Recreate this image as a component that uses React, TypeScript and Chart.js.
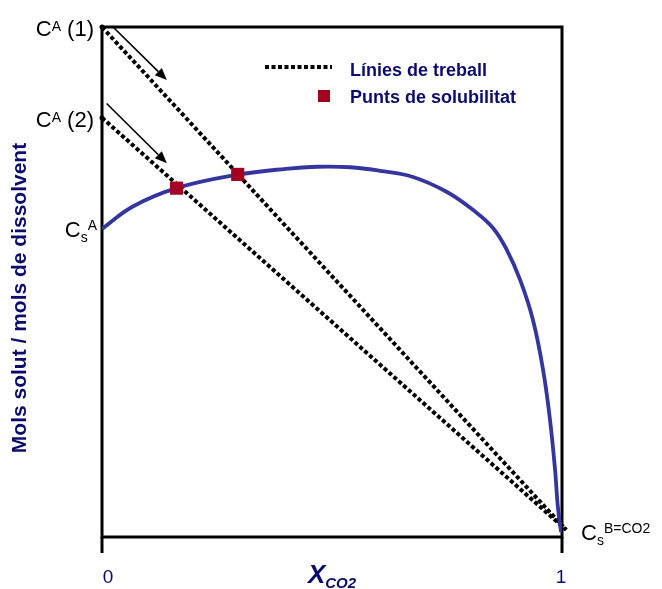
import React, { useEffect, useRef } from "react";
import { Chart, registerables } from "chart.js";

Chart.register(...registerables);

// Solubility curve (mole fraction of CO2 vs. mols solute / mols solvent)
const curveX = [0, 0.067, 0.162, 0.293, 0.4, 0.467, 0.54, 0.604, 0.676, 0.749, 0.807, 0.85, 0.88, 0.909, 0.937, 0.959, 0.974, 0.985, 0.991, 0.998];
const curveY = [0.604, 0.648, 0.684, 0.71, 0.722, 0.726, 0.725, 0.718, 0.706, 0.677, 0.641, 0.606, 0.563, 0.504, 0.425, 0.327, 0.229, 0.131, 0.059, 0.01];

// Working lines from each initial concentration down to pure CO2
const line1X = [0, 1.009];
const line1Y = [1.0, 0.014];
const line2X = [0, 1.009];
const line2Y = [0.822, 0.014];

// Solubility points (where working lines cut the curve)
const pointX = [0.162, 0.295];
const pointY = [0.684, 0.711];

// Direction arrows beside the working lines
const arrowStartX = [0.024, 0.01];
const arrowStartY = [1.0, 0.85];
const arrowEndX = [0.141, 0.141];
const arrowEndY = [0.896, 0.733];

const xTickValues = [0, 1];
const xTickLabels = ["0", "1"];
const legendLabels = ["Línies de treball", "Punts de solubilitat"];
const yTitle = "Mols solut / mols de dissolvent";

const FONT = "'Liberation Sans', Arial, Helvetica, sans-serif";
const NAVY = "#0b0b6e";
const CURVE = "#3535a0";
const SQUARE = "#a50021";

type Run = { t: string; size: number; dy?: number; weight?: string; style?: string };

function runFont(r: Run) {
  return `${r.style || "normal"} ${r.weight || "normal"} ${r.size}px ${FONT}`;
}

function drawRuns(ctx: CanvasRenderingContext2D, runs: Run[], x: number, y: number, align: "left" | "right" | "center", color: string) {
  ctx.save();
  ctx.fillStyle = color;
  ctx.textBaseline = "alphabetic";
  ctx.textAlign = "left";
  let total = 0;
  const widths = runs.map((r) => {
    ctx.font = runFont(r);
    const w = ctx.measureText(r.t).width;
    total += w;
    return w;
  });
  let cx = align === "left" ? x : align === "right" ? x - total : x - total / 2;
  runs.forEach((r, i) => {
    ctx.font = runFont(r);
    ctx.fillText(r.t, cx, y + (r.dy || 0));
    cx += widths[i];
  });
  ctx.restore();
}

const decorPlugin = {
  id: "decor",
  beforeDatasetsDraw(chart: any) {
    const { ctx, chartArea: a, scales } = chart;
    ctx.save();
    ctx.strokeStyle = "#000";
    ctx.lineWidth = 3;
    ctx.strokeRect(a.left, a.top, a.right - a.left, a.bottom - a.top);
    // tick marks below the x axis
    xTickValues.forEach((v) => {
      const px = scales.x.getPixelForValue(v);
      ctx.beginPath();
      ctx.moveTo(px, a.bottom);
      ctx.lineTo(px, a.bottom + 16);
      ctx.stroke();
    });
    ctx.restore();
  },
  afterDatasetsDraw(chart: any) {
    const { ctx, chartArea: a, scales } = chart;
    const sx = scales.x;
    const sy = scales.y;

    // arrows
    ctx.save();
    ctx.strokeStyle = "#000";
    ctx.fillStyle = "#000";
    ctx.lineWidth = 1.6;
    arrowStartX.forEach((_, i) => {
      const x0 = sx.getPixelForValue(arrowStartX[i]);
      const y0 = sy.getPixelForValue(arrowStartY[i]);
      const x1 = sx.getPixelForValue(arrowEndX[i]);
      const y1 = sy.getPixelForValue(arrowEndY[i]);
      const ang = Math.atan2(y1 - y0, x1 - x0);
      const hl = 12;
      const hw = 5;
      const bx = x1 - hl * Math.cos(ang);
      const by = y1 - hl * Math.sin(ang);
      ctx.beginPath();
      ctx.moveTo(x0, y0);
      ctx.lineTo(bx, by);
      ctx.stroke();
      ctx.beginPath();
      ctx.moveTo(x1, y1);
      ctx.lineTo(bx + hw * Math.sin(ang), by - hw * Math.cos(ang));
      ctx.lineTo(bx - hw * Math.sin(ang), by + hw * Math.cos(ang));
      ctx.closePath();
      ctx.fill();
    });
    ctx.restore();

    // point labels on the y axis
    const left = a.left;
    drawRuns(ctx, [
      { t: "C", size: 22 },
      { t: "A", size: 14, dy: -5 },
      { t: " (1)", size: 22 },
    ], left - 8, sy.getPixelForValue(line1Y[0]) + 9, "right", "#000");
    drawRuns(ctx, [
      { t: "C", size: 22 },
      { t: "A", size: 14, dy: -5 },
      { t: " (2)", size: 22 },
    ], left - 8, sy.getPixelForValue(line2Y[0]) + 9, "right", "#000");
    drawRuns(ctx, [
      { t: "C", size: 22 },
      { t: "s", size: 14, dy: 5 },
      { t: "A", size: 14, dy: -7 },
    ], left - 5, sy.getPixelForValue(curveY[0]) + 8, "right", "#000");
    drawRuns(ctx, [
      { t: "C", size: 22 },
      { t: "s", size: 14, dy: 5 },
      { t: "B=CO2", size: 14, dy: -7 },
    ], a.right + 19, a.bottom + 3, "left", "#000");

    // x tick labels
    const tickOffsets = [6, -1];
    xTickValues.forEach((v, i) => {
      drawRuns(ctx, [{ t: xTickLabels[i], size: 19 }], sx.getPixelForValue(v) + tickOffsets[i], a.bottom + 46, "center", NAVY);
    });

    // x axis title
    drawRuns(ctx, [
      { t: "X", size: 26, weight: "bold", style: "italic" },
      { t: "CO2", size: 15, weight: "bold", style: "italic", dy: 5 },
    ], (a.left + a.right) / 2, a.bottom + 46, "center", NAVY);

    // y axis title
    ctx.save();
    ctx.translate(20, 298);
    ctx.rotate(-Math.PI / 2);
    ctx.font = `bold 21px ${FONT}`;
    ctx.fillStyle = NAVY;
    ctx.textAlign = "center";
    ctx.textBaseline = "middle";
    ctx.fillText(yTitle, 0, 0);
    ctx.restore();

    // legend
    ctx.save();
    ctx.strokeStyle = "#000";
    ctx.lineWidth = 4;
    ctx.setLineDash([4, 2.5]);
    ctx.beginPath();
    ctx.moveTo(265, 67);
    ctx.lineTo(332, 67);
    ctx.stroke();
    ctx.setLineDash([]);
    ctx.fillStyle = SQUARE;
    ctx.fillRect(318, 90, 12, 12);
    ctx.restore();
    drawRuns(ctx, [{ t: legendLabels[0], size: 18, weight: "bold" }], 350, 76, "left", NAVY);
    drawRuns(ctx, [{ t: legendLabels[1], size: 18, weight: "bold" }], 350, 103, "left", NAVY);
  },
};

export default function App() {
  const ref = useRef<HTMLCanvasElement | null>(null);

  useEffect(() => {
    if (!ref.current) return;
    const toPts = (xs: number[], ys: number[]) => xs.map((x, i) => ({ x, y: ys[i] }));
    const chart = new Chart(ref.current, {
      type: "line",
      data: {
        datasets: [
          {
            label: "Punts de solubilitat",
            type: "scatter",
            data: toPts(pointX, pointY),
            pointStyle: "rect",
            pointRadius: 9.3,
            pointBackgroundColor: SQUARE,
            pointBorderWidth: 0,
            showLine: false,
            order: 0,
          } as any,
          {
            label: "Solubilitat",
            data: toPts(curveX, curveY),
            borderColor: CURVE,
            borderWidth: 3.8,
            pointRadius: 0,
            tension: 0.4,
            fill: false,
            order: 1,
          },
          {
            label: "Línia 1",
            data: toPts(line1X, line1Y),
            borderColor: "#000",
            borderWidth: 4,
            borderDash: [4, 2.5],
            pointRadius: [2.5, 0],
            pointBackgroundColor: "#000",
            pointBorderWidth: 0,
            fill: false,
            clip: false,
            order: 2,
          } as any,
          {
            label: "Línia 2",
            data: toPts(line2X, line2Y),
            borderColor: "#000",
            borderWidth: 4,
            borderDash: [4, 2.5],
            pointRadius: [2.5, 0],
            pointBackgroundColor: "#000",
            pointBorderWidth: 0,
            fill: false,
            clip: false,
            order: 2,
          } as any,
        ],
      },
      options: {
        responsive: false,
        animation: false,
        devicePixelRatio: 1,
        layout: { padding: { left: 102, right: 100, top: 27, bottom: 52 } },
        scales: {
          x: { type: "linear", min: 0, max: 1, display: false },
          y: { type: "linear", min: 0, max: 1, display: false },
        },
        plugins: {
          legend: { display: false },
          tooltip: { enabled: false },
        },
      },
      plugins: [decorPlugin],
    });
    return () => chart.destroy();
  }, []);

  return (
    <div style={{ position: "fixed", left: 0, top: 0, width: 662, height: 589, background: "#fff" }}>
      <canvas ref={ref} width={662} height={589} style={{ display: "block" }} />
    </div>
  );
}
